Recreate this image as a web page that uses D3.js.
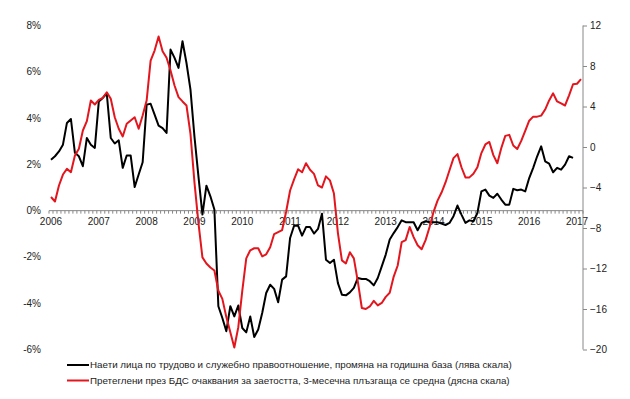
<!DOCTYPE html>
<html lang="bg">
<head>
<meta charset="UTF-8">
<title>Заетост</title>
<script src="https://cdn.jsdelivr.net/npm/d3@7"></script>
<style>
  body { margin: 0; background: #fff; }
  text { font-family: "Liberation Sans", Arial, sans-serif; fill: #222; }
  .line { fill: none; stroke-width: 2; stroke-linejoin: round; }
</style>
</head>
<body>
<svg id="chart" width="630" height="399"></svg>
<script>
// monthly data, starting January 2006
const startYear = 2006
const yearLabels = ["2006","2007","2008","2009","2010","2011","2012","2013","2014","2015","2016","2017"]
const leftTicks = [8, 6, 4, 2, 0, -2, -4, -6]
const rightTicks = [12, 8, 4, 0, -4, -8, -12, -16, -20]

// employed persons, y/y change, % (left scale)
const employed = [
  2.2, 2.35, 2.56, 2.85, 3.79, 3.96, 2.5, 2.35, 1.92, 3.14, 2.85, 2.71,
  4.72, 4.87, 5.06, 3.14, 2.9, 3.04, 1.85, 2.38, 2.38, 1.02, 1.56, 2.09,
  4.58, 4.62, 4.15, 3.67, 3.57, 3.36, 6.96, 6.6, 6.17, 7.32, 6.38, 5.23,
  3.2, 1.48, -0.17, 1.08, 0.62, 0.05, -4.13, -4.64, -5.21, -4.13, -4.57, -4.1,
  -5.07, -5.26, -4.57, -5.46, -5.14, -4.42, -3.56, -3.2, -3.38, -3.96, -2.98, -2.84,
  -1.18, -0.65, -0.65, -1.08, -0.71, -0.71, -0.99, -0.79, -0.13, -2.12, -2.26, -2.12,
  -3.13, -3.63, -3.66, -3.53, -3.34, -2.91, -2.95, -2.95, -3.05, -3.23, -2.91, -2.41,
  -1.9, -1.25, -0.97, -0.71, -0.42, -0.5, -0.5, -0.5, -0.85, -0.53, -0.46, -0.5,
  -0.5, -0.5, -0.56, -0.62, -0.53, -0.24, 0.22, -0.17, -0.53, -0.42, -0.46, -0.1,
  0.83, 0.91, 0.65, 0.55, 0.73, 0.48, 0.26, 0.26, 0.94, 0.88, 0.91, 0.83,
  1.41, 1.85, 2.35, 2.78, 2.13, 2.03, 1.66, 1.85, 1.77, 1.99, 2.35, 2.28
]

// BDS employment expectations, 3-month moving average (right scale)
const expectations = [
  -4.94, -5.38, -3.8, -2.72, -2.16, -2.49, -0.84, -0.18, 1.63, 2.55, 4.59, 4.2,
  4.66, 4.86, 5.41, 4.76, 2.94, 1.8, 1.04, 2.29, 2.62, 2.94, 1.8, 3.11,
  4.59, 8.54, 9.53, 10.91, 9.46, 8.81, 7.56, 6.07, 4.92, 4.5, 4.1, 1.3,
  -3.5, -7.5, -10.9, -11.5, -11.9, -12.2, -14.2, -15.0, -16.8, -18.3, -19.8, -17.8,
  -14.2, -11.0, -10.2, -10.0, -10.0, -10.8, -10.6, -9.9, -8.6, -8.4, -8.2, -6.4,
  -4.3, -3.2, -2.2, -2.5, -1.6, -2.25, -2.65, -3.8, -4.0, -2.9, -3.3, -4.6,
  -8.5, -11.2, -11.5, -10.4, -11.0, -13.3, -15.9, -16.0, -15.75, -15.2, -15.65, -15.4,
  -14.8, -14.4, -12.8, -11.7, -9.4, -9.2, -7.9, -8.9, -9.7, -10.1, -9.2, -7.9,
  -6.4, -5.3, -4.5, -3.5, -2.3, -1.1, -0.7, -2.0, -3.0, -3.0, -2.65, -2.0,
  -0.6, 0.25, 0.5, -0.8, -1.6, -0.1, 1.1, 1.2, 0.15, -0.2, 0.6, 1.6,
  2.6, 3.0, 3.0, 3.1, 3.7, 4.6, 5.3, 4.5, 4.3, 4.1, 5.1, 6.2,
  6.25, 6.7
]

const legendLabels = [
  "Наети лица по трудово и служебно правоотношение, промяна на годишна база (лява скала)",
  "Претеглени през БДС очаквания за заетостта, 3-месечна плъзгаща се средна (дясна скала)"
]
const colors = ["#000000", "#e3161e"]

const svg = d3.select("#chart")
const nMonths = expectations.length

const x = d3.scaleLinear().domain([-0.5, nMonths - 0.5]).range([49, 583])
const yL = d3.scaleLinear().domain([-6, 8]).range([349.5, 25.5])
const yR = d3.scaleLinear().domain([-20, 12]).range([349.5, 25.5])

// left labels (no axis line)
svg.append("g").selectAll("text").data(leftTicks).join("text")
  .attr("x", 41).attr("y", d => yL(d)).attr("dy", "0.35em")
  .attr("text-anchor", "end").attr("font-size", 10)
  .text(d => d + "%")

// right axis
const rAxis = svg.append("g").attr("transform", "translate(583,0)")
  .call(d3.axisRight(yR).tickValues(rightTicks).tickSize(4).tickPadding(3))
rAxis.select(".domain").attr("stroke", "#888").attr("d", "M0," + yR(12) + "V" + yR(-20))
rAxis.selectAll(".tick line").attr("stroke", "#888")
rAxis.selectAll(".tick text").attr("font-size", 10).attr("fill", "#222")
  .attr("font-family", "Liberation Sans, Arial, sans-serif")

// x axis on the 0% line, monthly ticks
const y0 = yL(0)
const xg = svg.append("g")
xg.append("line").attr("x1", x(-0.5)).attr("x2", x(nMonths - 0.5))
  .attr("y1", y0).attr("y2", y0).attr("stroke", "#888")
xg.selectAll(".mt").data(d3.range(nMonths + 1)).join("line")
  .attr("class", "mt")
  .attr("x1", d => x(d - 0.5)).attr("x2", d => x(d - 0.5))
  .attr("y1", y0).attr("y2", y0 + 3).attr("stroke", "#888")
xg.selectAll("text").data(yearLabels).join("text")
  .attr("x", (d, i) => x(i * 12)).attr("y", y0 + 11)
  .attr("dy", "0.35em").attr("text-anchor", "middle").attr("font-size", 10)
  .text(d => d)

// lines
const lineL = d3.line().x((d, i) => x(i)).y(d => yL(d))
const lineR = d3.line().x((d, i) => x(i)).y(d => yR(d))
svg.append("path").datum(employed).attr("class", "line")
  .attr("stroke", colors[0]).attr("d", lineL)
svg.append("path").datum(expectations).attr("class", "line")
  .attr("stroke", colors[1]).attr("d", lineR)

// legend
const lg = svg.append("g").selectAll("g").data(legendLabels).join("g")
  .attr("transform", (d, i) => "translate(67," + (365 + i * 15.5) + ")")
lg.append("line").attr("x1", 0).attr("x2", 22).attr("stroke", (d, i) => colors[i]).attr("stroke-width", 2)
lg.append("text").attr("x", 23).attr("dy", "0.35em").attr("font-size", 9.8).text(d => d)
</script>
</body>
</html>
